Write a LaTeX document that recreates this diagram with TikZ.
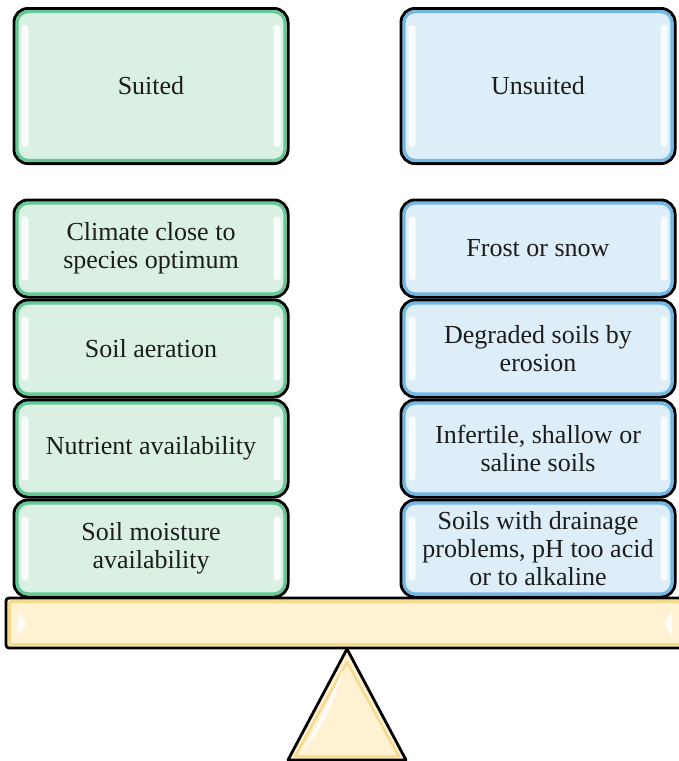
\documentclass[tikz,border=0pt]{standalone}
\usepackage{fontspec}
\setmainfont{Liberation Serif}
\usetikzlibrary{positioning}
\definecolor{suitfill}{HTML}{DAF0E3}
\definecolor{suitring}{HTML}{66C896}
\definecolor{unsuitfill}{HTML}{DDEEF8}
\definecolor{unsuitring}{HTML}{74B8E4}
\definecolor{beamfill}{HTML}{FFF2D3}
\definecolor{beamring}{HTML}{F6DA8C}
\definecolor{textgray}{HTML}{1C1C1C}

\begin{document}
\begin{tikzpicture}[x=1pt,y=-1pt,
	box/.style={rectangle,rounded corners=14pt,draw=black,line width=3pt,minimum width=274pt,minimum height=97pt,align=center,text=textgray,font=\fontsize{26}{28}\selectfont,inner sep=0pt},
	suitbox/.style={box,fill=suitfill},
	unsuitbox/.style={box,fill=unsuitfill},
	ring/.style={line width=3.2pt,rounded corners=11pt},
	gloss/.style={fill=white,opacity=0.85,rounded corners=3pt},
	stand/.style={draw=black,line width=2.8pt,fill=beamfill,line join=round}]
	\useasboundingbox (0,0) rectangle (678,761);
	\draw[stand] (347,649) -- (406,760) -- (288,760) -- cycle;
	\draw[beamring,line width=2.4pt,line join=round] (347,662) -- (399,756.5) -- (295,756.5) -- cycle;
	\fill[white,opacity=0.8] (343,668) .. controls (330,700) and (315,730) .. (302,752) .. controls (322,730) and (336,700) .. cycle;
	\draw[stand,rounded corners=3pt] (6,598) rectangle (692,648);
	\draw[beamring,line width=2.4pt] (9.5,601.5) -- (692,601.5);
	\draw[beamring,line width=2.4pt] (9.5,644.5) -- (692,644.5);
	\draw[beamring,line width=2.4pt] (9.5,601.5) -- (9.5,644.5);
	\fill[white,opacity=0.85] (18,612) -- (26,623) -- (18,636) -- cycle;
	\fill[white,opacity=0.85] (672,612) -- (664,623) -- (672,636) -- cycle;
	\node[suitbox,minimum height=155pt] (suited) at (151,86) {Suited};
	\node[unsuitbox,minimum height=155pt] (unsuited) at (538,86) {Unsuited};
	\node[suitbox] (s1) at (151,248.5) {Climate close to\\species optimum};
	\node[suitbox,below=0pt of s1] (s2) {Soil aeration};
	\node[suitbox,below=0pt of s2] (s3) {Nutrient availability};
	\node[suitbox,below=0pt of s3] (s4) {Soil moisture\\availability};
	\node[unsuitbox] (u1) at (538,248.5) {Frost or snow};
	\node[unsuitbox,below=0pt of u1] (u2) {Degraded soils by\\erosion};
	\node[unsuitbox,below=0pt of u2] (u3) {Infertile, shallow or\\saline soils};
	\node[unsuitbox,below=0pt of u3] (u4) {Soils with drainage\\problems, pH too acid\\or to alkaline};
	\foreach \n in {suited,s1,s2,s3,s4}
		\draw[suitring,ring] ([xshift=4.6pt,yshift=-4.6pt]\n.north west) rectangle ([xshift=-4.6pt,yshift=4.6pt]\n.south east);
	\foreach \n in {unsuited,u1,u2,u3,u4}
		\draw[unsuitring,ring] ([xshift=4.6pt,yshift=-4.6pt]\n.north west) rectangle ([xshift=-4.6pt,yshift=4.6pt]\n.south east);
	\foreach \n in {suited,s1,s2,s3,s4,unsuited,u1,u2,u3,u4} {
		\fill[gloss] ([xshift=9pt,yshift=-18pt]\n.north west) rectangle ([xshift=16pt,yshift=18pt]\n.south west);
		\fill[gloss] ([xshift=-16pt,yshift=-18pt]\n.north east) rectangle ([xshift=-9pt,yshift=18pt]\n.south east);
	}
\end{tikzpicture}
\end{document}
